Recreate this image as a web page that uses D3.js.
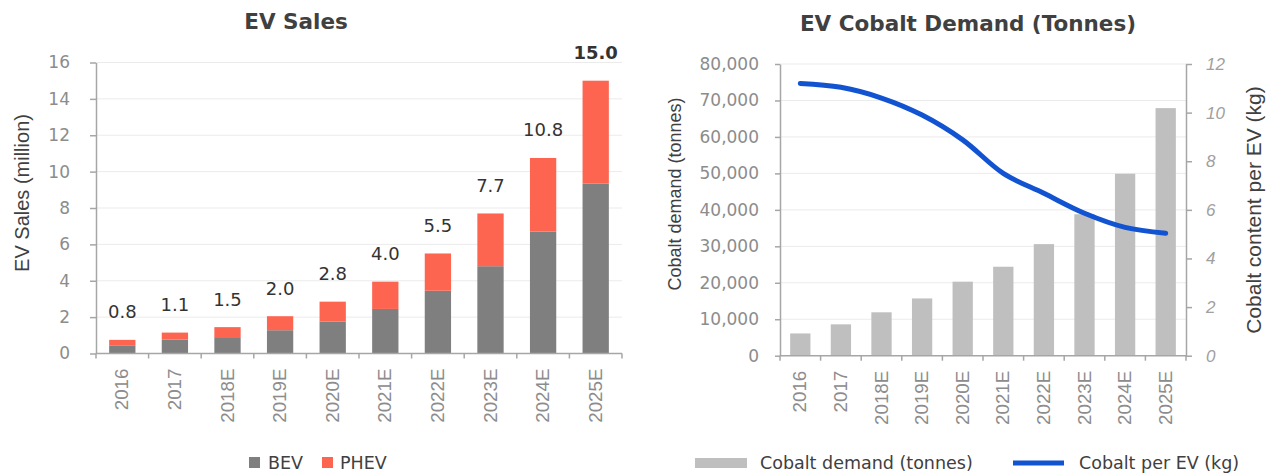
<!DOCTYPE html>
<html lang="en">
<head>
<meta charset="UTF-8">
<title>EV Sales and Cobalt Demand</title>
<script src="https://cdnjs.cloudflare.com/ajax/libs/d3/7.8.5/d3.min.js"></script>
<style>
    body { margin: 0; background: #fff; }
    svg { display: block; }
    .title { font-family: "DejaVu Sans", Verdana, sans-serif; font-weight: bold; font-size: 21.5px; fill: #404040; }
    .tick-lbl { font-family: "DejaVu Sans", Verdana, sans-serif; font-size: 17px; fill: #8c8c8c; }
    .x-lbl { font-family: "Liberation Sans", Arial, sans-serif; font-size: 18.8px; fill: #8c8c8c; }
    .axis-title { font-family: "Liberation Sans", Arial, sans-serif; fill: #404040; }
    .legend { font-family: "DejaVu Sans", Verdana, sans-serif; font-size: 17.5px; fill: #404040; }
    .value { font-family: "DejaVu Sans", Verdana, sans-serif; font-size: 18px; fill: #333; }
</style>
</head>
<body>
<svg id="chart" width="1275" height="476"></svg>
<script>
    // categories
    const years = ["2016", "2017", "2018E", "2019E", "2020E", "2021E", "2022E", "2023E", "2024E", "2025E"];

    // EV sales (million)
    const bev  = [0.45, 0.77, 0.90, 1.28, 1.75, 2.45, 3.45, 4.80, 6.70, 9.35];
    const phev = [0.30, 0.38, 0.55, 0.77, 1.10, 1.50, 2.05, 2.90, 4.05, 5.65];
    const totalLabels = ["0.8", "1.1", "1.5", "2.0", "2.8", "4.0", "5.5", "7.7", "10.8", "15.0"];
    const salesTicks = [0, 2, 4, 6, 8, 10, 12, 14, 16];

    // cobalt
    const cobaltDemand = [6100, 8600, 11900, 15700, 20300, 24400, 30600, 38800, 49900, 67900];
    const cobaltPerEV  = [11.2, 11.04, 10.6, 9.9, 8.88, 7.5, 6.68, 5.86, 5.28, 5.04];
    const demandTicks = [0, 10000, 20000, 30000, 40000, 50000, 60000, 70000, 80000];
    const perEVTicks = [0, 2, 4, 6, 8, 10, 12];

    const colors = { bev: "#7f7f7f", phev: "#fd6551", demand: "#bfbfbf", line: "#1153d0", axis: "#a6a6a6", grid: "#ebebeb" };

    const svg = d3.select("#chart");

    // shared helper: x axis with ticks between categories
    function drawXAxis(g, x, y0) {
        const r = x.range(), step = x.step();
        g.append("line")
            .attr("x1", r[0]).attr("x2", r[1]).attr("y1", y0).attr("y2", y0)
            .attr("stroke", colors.axis).attr("stroke-width", 1.5);
        d3.range(years.length + 1).forEach(i => {
            g.append("line")
                .attr("x1", r[0] + i * step).attr("x2", r[0] + i * step)
                .attr("y1", y0).attr("y2", y0 + 5)
                .attr("stroke", colors.axis).attr("stroke-width", 1.5);
        });
        g.selectAll(".x-lbl").data(years).enter().append("text")
            .attr("class", "x-lbl")
            .attr("transform", d => `translate(${x(d) + x.bandwidth() / 2 + 6},${y0 + 15}) rotate(-90)`)
            .attr("text-anchor", "end")
            .text(d => d);
    }

    function styleAxis(sel) {
        sel.select(".domain").attr("stroke", colors.axis).attr("stroke-width", 1.5);
        sel.selectAll(".tick line").attr("stroke", colors.axis).attr("stroke-width", 1.5);
        sel.selectAll(".tick text").attr("fill", null).attr("font-family", null).attr("font-size", null);
    }

    // ---------- left: EV Sales ----------
    const xL = d3.scaleBand().domain(years).range([96, 622]).paddingInner(0.5).paddingOuter(0.25);
    const yL = d3.scaleLinear().domain([0, 16]).range([353.5, 62.5]);
    const left = svg.append("g");

    left.append("text").attr("class", "title")
        .attr("x", 296).attr("y", 29).attr("text-anchor", "middle").text("EV Sales");

    left.append("g").selectAll("line").data(salesTicks.slice(1)).enter().append("line")
        .attr("x1", 96).attr("x2", 622)
        .attr("y1", d => yL(d)).attr("y2", d => yL(d))
        .attr("stroke", colors.grid);

    const yAxisL = left.append("g").attr("transform", "translate(96,0)")
        .call(d3.axisLeft(yL).tickValues(salesTicks).tickSize(6).tickPadding(20).tickSizeOuter(0));
    styleAxis(yAxisL);
    yAxisL.selectAll(".tick text").attr("class", "tick-lbl");

    const stack = years.map((y, i) => ({ year: y, bev: bev[i], phev: phev[i], label: totalLabels[i] }));

    left.append("g").selectAll("rect").data(stack).enter().append("rect")
        .attr("x", d => xL(d.year)).attr("width", xL.bandwidth())
        .attr("y", d => yL(d.bev)).attr("height", d => yL(0) - yL(d.bev))
        .attr("fill", colors.bev);

    left.append("g").selectAll("rect").data(stack).enter().append("rect")
        .attr("x", d => xL(d.year)).attr("width", xL.bandwidth())
        .attr("y", d => yL(d.bev + d.phev)).attr("height", d => yL(d.bev) - yL(d.bev + d.phev))
        .attr("fill", colors.phev);

    left.append("g").selectAll("text").data(stack).enter().append("text")
        .attr("class", "value")
        .attr("x", d => xL(d.year) + xL.bandwidth() / 2)
        .attr("y", d => yL(d.bev + d.phev) - 21.5)
        .attr("text-anchor", "middle")
        .style("font-weight", (d, i) => i === stack.length - 1 ? "bold" : "normal")
        .text(d => d.label);

    drawXAxis(left, xL, yL(0));

    left.append("text").attr("class", "axis-title")
        .attr("transform", "translate(29,193) rotate(-90)")
        .attr("text-anchor", "middle").style("font-size", "20px")
        .text("EV Sales (million)");

    // legend
    const legL = left.append("g");
    legL.append("rect").attr("x", 249).attr("y", 457).attr("width", 11).attr("height", 11).attr("fill", colors.bev);
    legL.append("text").attr("class", "legend").attr("x", 268).attr("y", 469).text("BEV");
    legL.append("rect").attr("x", 322).attr("y", 457).attr("width", 11).attr("height", 11).attr("fill", colors.phev);
    legL.append("text").attr("class", "legend").attr("x", 340).attr("y", 469).text("PHEV");

    // ---------- right: EV Cobalt Demand ----------
    const xR = d3.scaleBand().domain(years).range([780, 1186]).paddingInner(0.5).paddingOuter(0.25);
    const yR = d3.scaleLinear().domain([0, 80000]).range([355.7, 64]);
    const yR2 = d3.scaleLinear().domain([0, 12]).range([355.7, 64]);
    const right = svg.append("g");

    right.append("text").attr("class", "title")
        .attr("x", 968).attr("y", 31).attr("text-anchor", "middle").text("EV Cobalt Demand (Tonnes)");

    right.append("g").selectAll("line").data(demandTicks.slice(1)).enter().append("line")
        .attr("x1", 780).attr("x2", 1186)
        .attr("y1", d => yR(d)).attr("y2", d => yR(d))
        .attr("stroke", colors.grid);

    const yAxisR = right.append("g").attr("transform", "translate(780,0)")
        .call(d3.axisLeft(yR).tickValues(demandTicks).tickSize(5).tickPadding(16).tickSizeOuter(0)
            .tickFormat(d3.format(",")));
    styleAxis(yAxisR);
    yAxisR.selectAll(".tick text").attr("class", "tick-lbl");

    const yAxisR2 = right.append("g").attr("transform", "translate(1186,0)")
        .call(d3.axisRight(yR2).tickValues(perEVTicks).tickSize(6).tickPadding(14).tickSizeOuter(0));
    styleAxis(yAxisR2);
    yAxisR2.selectAll(".tick text")
        .style("font-family", "'Liberation Sans', Arial, sans-serif")
        .style("font-style", "italic").style("font-size", "17px").style("fill", "#a0a0a0");

    right.append("g").selectAll("rect").data(years).enter().append("rect")
        .attr("x", d => xR(d)).attr("width", xR.bandwidth())
        .attr("y", (d, i) => yR(cobaltDemand[i]))
        .attr("height", (d, i) => yR(0) - yR(cobaltDemand[i]))
        .attr("fill", colors.demand);

    drawXAxis(right, xR, yR(0));

    const line = d3.line()
        .x((d, i) => xR(years[i]) + xR.bandwidth() / 2)
        .y(d => yR2(d))
        .curve(d3.curveCatmullRom.alpha(0.5));

    right.append("path").datum(cobaltPerEV)
        .attr("d", line)
        .attr("fill", "none").attr("stroke", colors.line)
        .attr("stroke-width", 5).attr("stroke-linecap", "round");

    right.append("text").attr("class", "axis-title")
        .attr("transform", "translate(681,194) rotate(-90)")
        .attr("text-anchor", "middle").style("font-size", "18px")
        .text("Cobalt demand (tonnes)");

    right.append("text").attr("class", "axis-title")
        .attr("transform", "translate(1261,210) rotate(-90)")
        .attr("text-anchor", "middle").style("font-size", "21px")
        .text("Cobalt content per EV (kg)");

    // legend
    const legR = right.append("g");
    legR.append("rect").attr("x", 695).attr("y", 458).attr("width", 52).attr("height", 10).attr("fill", colors.demand);
    legR.append("text").attr("class", "legend").attr("x", 760).attr("y", 469).text("Cobalt demand (tonnes)");
    legR.append("line").attr("x1", 1013).attr("x2", 1064).attr("y1", 463).attr("y2", 463)
        .attr("stroke", colors.line).attr("stroke-width", 5);
    legR.append("text").attr("class", "legend").attr("x", 1079).attr("y", 469).text("Cobalt per EV (kg)");
</script>
</body>
</html>
